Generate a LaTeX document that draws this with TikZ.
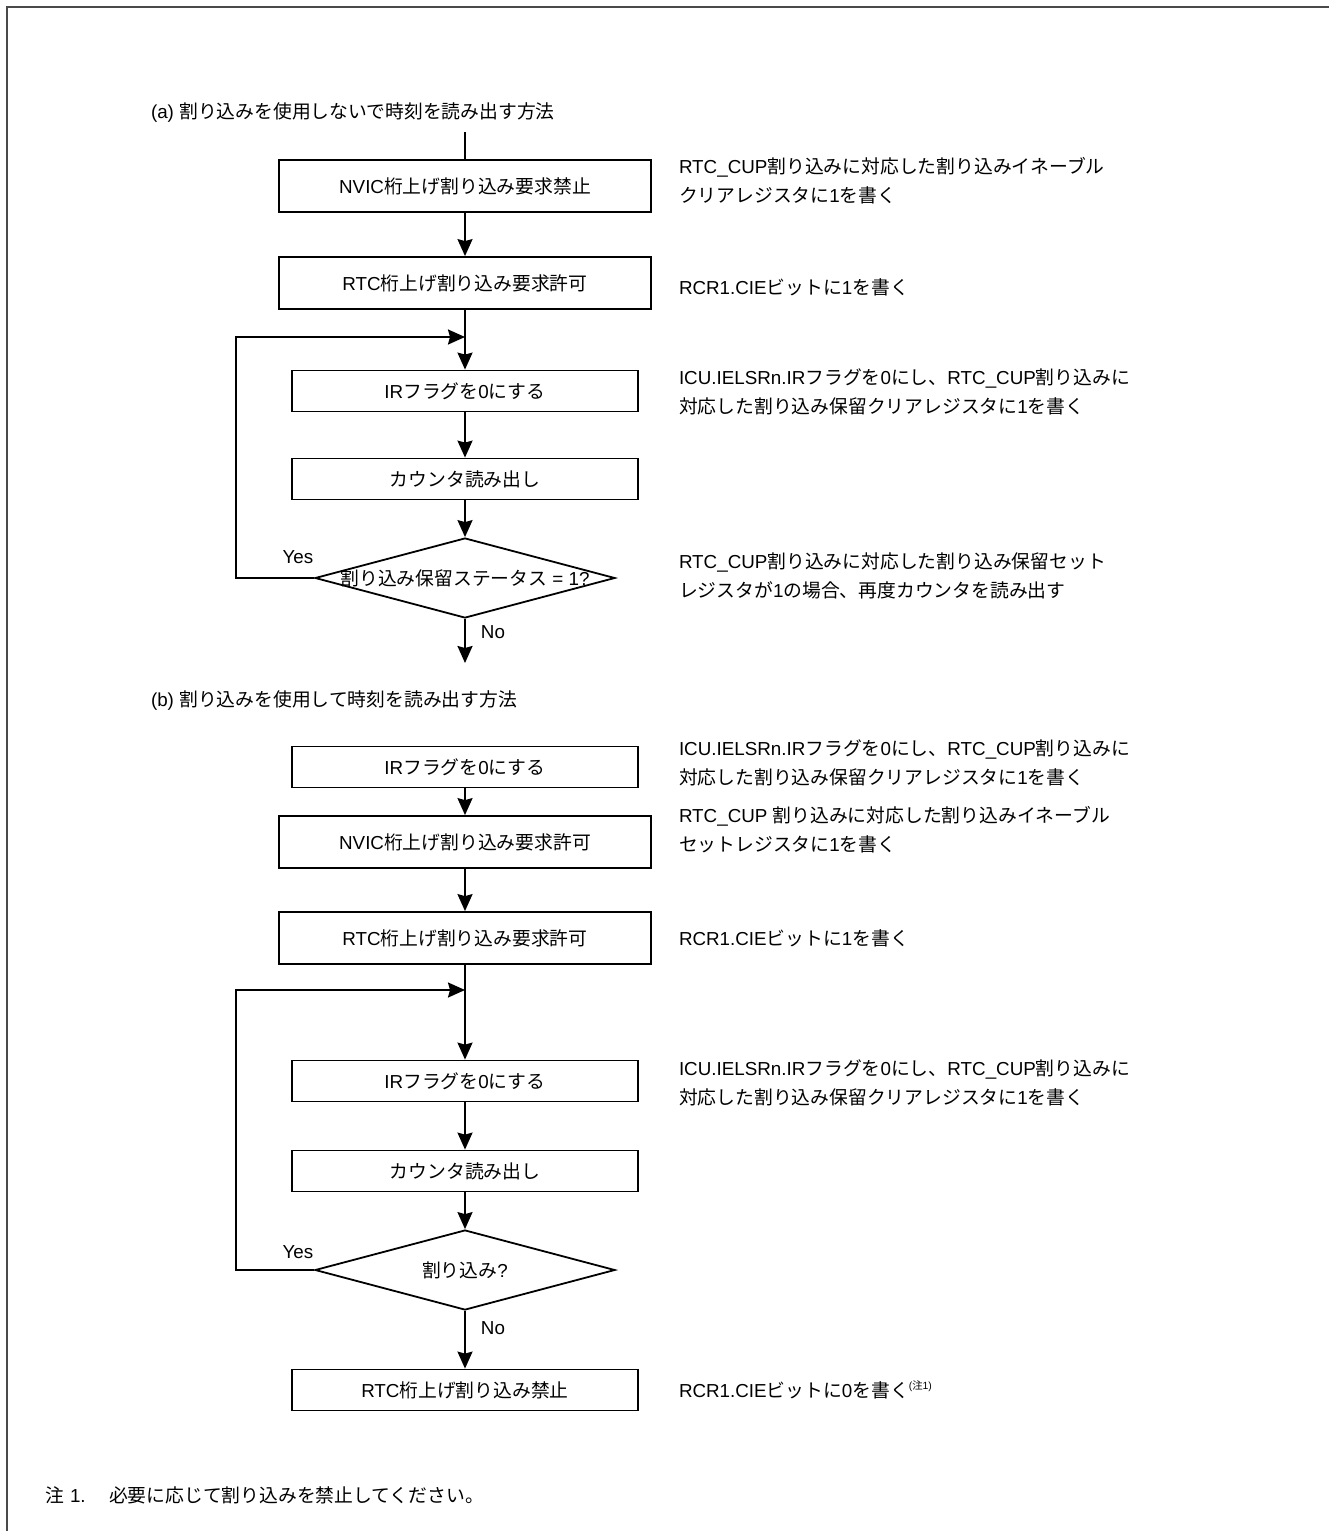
\documentclass[tikz,border=0pt]{standalone}
\usepackage{fontspec}
\setmainfont{Liberation Sans}
\newfontfamily\jpfont{Noto Sans CJK JP}
\newcommand{\jp}[1]{{\jpfont #1}}
\usetikzlibrary{arrows.meta,shapes.geometric}
\definecolor{framegray}{HTML}{4A4A4A}

\begin{document}
\begin{tikzpicture}[
  x=0.5pt, y=-0.5pt,
  font=\fontsize{9.4}{14.5}\selectfont,
  bigbox/.style={draw, line width=0.9pt, minimum width=186pt, minimum height=26pt, inner sep=0pt},
  smallbox/.style={draw, line width=0.9pt, minimum width=173pt, minimum height=20.5pt, inner sep=0pt},
  decision/.style={draw, diamond, line width=0.9pt, minimum width=150pt, minimum height=40pt, inner sep=0pt},
  note/.style={anchor=west, align=left, inner sep=0pt},
  >={Stealth[length=8.5pt,width=7.5pt,inset=1pt]}, line width=1pt
]
\useasboundingbox (0,0) rectangle (1329,1531);
\draw[framegray, line width=1.2pt] (7,1531) -- (7,7) -- (1329,7);

% (a) without interrupt
\node[note] (capA) at (150,113) {(a) \jp{割り込みを使用しないで時刻を読み出す方法}};
\coordinate (startA) at (465,132);
\node[bigbox] (a1) at (465,186) {NVIC\jp{桁上げ割り込み要求禁止}};
\node[bigbox] (a2) at (465,283) {RTC\jp{桁上げ割り込み要求許可}};
\node[smallbox] (a3) at (465,391) {IR\jp{フラグを}0\jp{にする}};
\node[smallbox] (a4) at (465,479) {\jp{カウンタ読み出し}};
\node[decision, label={center:\jp{割り込み保留ステータス} = 1?}] (a5) at (465,578) {};
\coordinate (endA) at (465,663);
\coordinate (cornA) at (236,337);
\coordinate (joinA) at (465,337);

\node[note] (na1) at (678,181) {RTC\_CUP\jp{割り込みに対応した割り込みイネーブル}\\\jp{クリアレジスタに}1\jp{を書く}};
\node[note] (na2) at (678,287) {RCR1.CIE\jp{ビットに}1\jp{を書く}};
\node[note] (na3) at (678,392) {ICU.IELSRn.IR\jp{フラグを}0\jp{にし、}RTC\_CUP\jp{割り込みに}\\\jp{対応した割り込み保留クリアレジスタに}1\jp{を書く}};
\node[note] (na5) at (678,576) {RTC\_CUP\jp{割り込みに対応した割り込み保留セット}\\\jp{レジスタが}1\jp{の場合、再度カウンタを読み出す}};
\node (yesA) at (298,557) {Yes};
\node (noA) at (493,632) {No};

\draw (startA) -- (a1);
\draw[->] (a1) -- (a2);
\draw[->] (a2) -- (a3);
\draw[->] (a3) -- (a4);
\draw[->] (a4) -- (a5);
\draw[->] (a5) -- (endA);
\draw[->] (a5.west) -| (cornA) -- (joinA);

% (b) with interrupt
\node[note] (capB) at (150,701) {(b) \jp{割り込みを使用して時刻を読み出す方法}};
\node[smallbox] (b1) at (465,767) {IR\jp{フラグを}0\jp{にする}};
\node[bigbox] (b2) at (465,842) {NVIC\jp{桁上げ割り込み要求許可}};
\node[bigbox] (b3) at (465,938) {RTC\jp{桁上げ割り込み要求許可}};
\node[smallbox] (b4) at (465,1081) {IR\jp{フラグを}0\jp{にする}};
\node[smallbox] (b5) at (465,1171) {\jp{カウンタ読み出し}};
\node[decision, label={center:\jp{割り込み}?}] (b6) at (465,1270) {};
\node[smallbox] (b7) at (465,1390) {RTC\jp{桁上げ割り込み禁止}};
\coordinate (cornB) at (236,990);
\coordinate (joinB) at (465,990);

\node[note] (nb1) at (678,763) {ICU.IELSRn.IR\jp{フラグを}0\jp{にし、}RTC\_CUP\jp{割り込みに}\\\jp{対応した割り込み保留クリアレジスタに}1\jp{を書く}};
\node[note] (nb2) at (678,830) {RTC\_CUP \jp{割り込みに対応した割り込みイネーブル}\\\jp{セットレジスタに}1\jp{を書く}};
\node[note] (nb3) at (678,938) {RCR1.CIE\jp{ビットに}1\jp{を書く}};
\node[note] (nb4) at (678,1083) {ICU.IELSRn.IR\jp{フラグを}0\jp{にし、}RTC\_CUP\jp{割り込みに}\\\jp{対応した割り込み保留クリアレジスタに}1\jp{を書く}};
\node[note] (nb7) at (678,1390) {RCR1.CIE\jp{ビットに}0\jp{を書く}\raisebox{0.8ex}{\fontsize{5.2}{6}\selectfont (\jp{注}1)}};
\node (yesB) at (298,1252) {Yes};
\node (noB) at (493,1328) {No};

\draw[->] (b1) -- (b2);
\draw[->] (b2) -- (b3);
\draw[->] (b3) -- (b4);
\draw[->] (b4) -- (b5);
\draw[->] (b5) -- (b6);
\draw[->] (b6) -- (b7);
\draw[->] (b6.west) -| (cornB) -- (joinB);

% footnote
\node[note] (fnmark) at (45,1495) {\jp{注} 1.};
\node[note] (fntext) at (108,1495) {\jp{必要に応じて割り込みを禁止してください。}};
\end{tikzpicture}
\end{document}
